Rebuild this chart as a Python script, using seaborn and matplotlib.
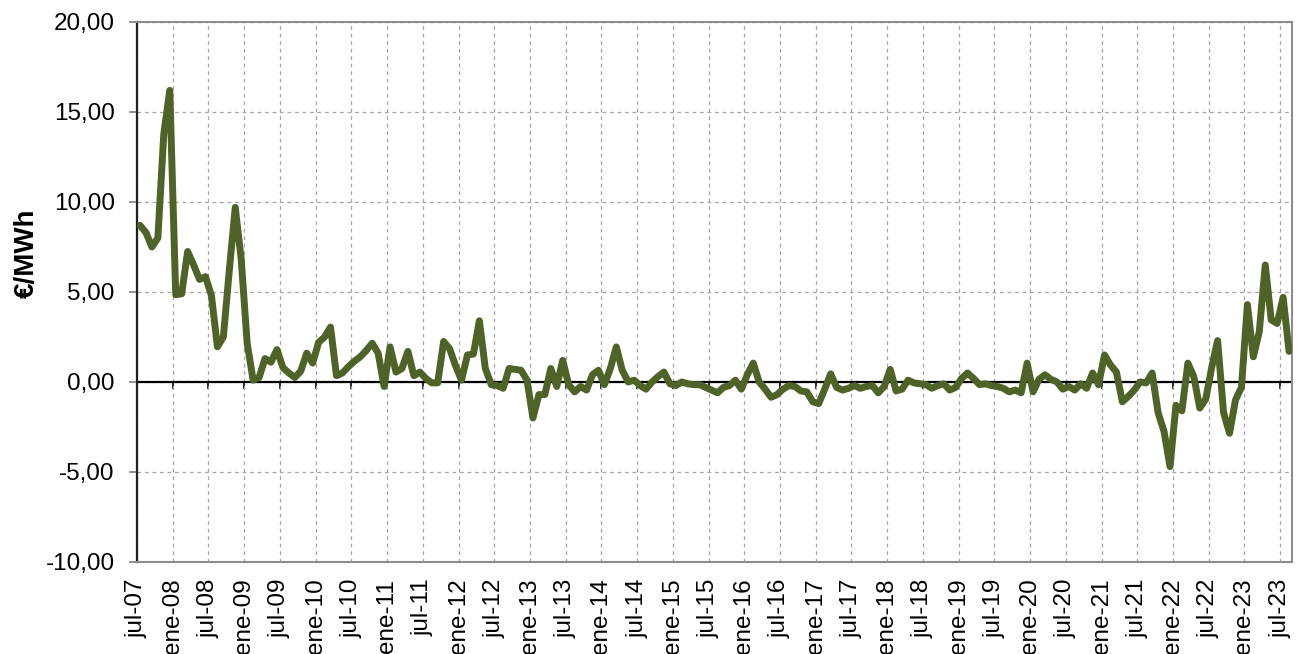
import numpy as np
import pandas as pd
import matplotlib
matplotlib.use("Agg")
import matplotlib.pyplot as plt
from matplotlib.ticker import FuncFormatter, MultipleLocator
import seaborn as sns

# Monthly price spread (EUR/MWh), July 2007 to August 2023
spread_eur_mwh = [
    8.7, 8.3, 7.5, 8.0, 13.8, 16.2, 4.85, 4.9, 7.25, 6.5, 5.7, 5.85,
    4.8, 1.95, 2.5, 6.2, 9.7, 6.8, 2.15, 0.1, 0.25, 1.3, 1.1, 1.8,
    0.8, 0.5, 0.25, 0.6, 1.6, 1.05, 2.2, 2.5, 3.05, 0.35, 0.5, 0.85,
    1.15, 1.4, 1.75, 2.15, 1.6, -0.25, 1.95, 0.55, 0.75, 1.7, 0.35, 0.55,
    0.2, -0.05, -0.05, 2.25, 1.85, 0.9, 0.1, 1.5, 1.55, 3.4, 0.75, -0.15,
    -0.2, -0.35, 0.75, 0.7, 0.65, 0.1, -2.0, -0.7, -0.7, 0.75, -0.25, 1.2,
    -0.15, -0.55, -0.25, -0.45, 0.4, 0.65, -0.15, 0.75, 1.95, 0.65, 0.0, 0.1,
    -0.2, -0.4, 0.0, 0.3, 0.55, -0.1, -0.2, 0.0, -0.1, -0.15, -0.15, -0.3,
    -0.45, -0.6, -0.3, -0.2, 0.1, -0.4, 0.4, 1.05, 0.0, -0.4, -0.85, -0.7,
    -0.4, -0.2, -0.25, -0.5, -0.55, -1.1, -1.2, -0.4, 0.45, -0.3, -0.45, -0.35,
    -0.2, -0.35, -0.25, -0.2, -0.6, -0.25, 0.7, -0.5, -0.4, 0.1, -0.05, -0.1,
    -0.15, -0.35, -0.2, -0.1, -0.45, -0.3, 0.2, 0.5, 0.2, -0.15, -0.1, -0.2,
    -0.25, -0.35, -0.55, -0.45, -0.6, 1.05, -0.55, 0.15, 0.4, 0.15, 0.0, -0.4,
    -0.25, -0.45, -0.1, -0.35, 0.5, -0.15, 1.5, 0.95, 0.55, -1.1, -0.8, -0.45,
    0.0, -0.05, 0.5, -1.7, -2.75, -4.7, -1.3, -1.6, 1.05, 0.3, -1.45, -0.95,
    0.8, 2.3, -1.7, -2.85, -1.0, -0.3, 4.3, 1.4, 2.8, 6.5, 3.45, 3.25,
    4.7, 1.7,
]

# Half-yearly axis labels (Spanish month abbreviations)
tick_labels = [
    "jul-07", "ene-08", "jul-08", "ene-09", "jul-09", "ene-10", "jul-10",
    "ene-11", "jul-11", "ene-12", "jul-12", "ene-13", "jul-13", "ene-14",
    "jul-14", "ene-15", "jul-15", "ene-16", "jul-16", "ene-17", "jul-17",
    "ene-18", "jul-18", "ene-19", "jul-19", "ene-20", "jul-20", "ene-21",
    "jul-21", "ene-22", "jul-22", "ene-23", "jul-23",
]

y_label = "€/MWh"

# Months counted from July 2007; each value sits in the middle of its month
n = len(spread_eur_mwh)
df = pd.DataFrame({"month": np.arange(n) + 0.5, "spread": spread_eur_mwh})
tick_pos = np.arange(len(tick_labels)) * 6

sns.set_theme(style="white")
plt.rcParams["font.family"] = ["Liberation Sans", "DejaVu Sans"]
plt.rcParams["text.color"] = "black"
plt.rcParams["xtick.color"] = "black"
plt.rcParams["ytick.color"] = "black"

fig = plt.figure(figsize=(13.1, 6.54), dpi=100)
ax = fig.add_axes([0.1046, 0.1407, 0.8817, 0.8257])

ax.set_xlim(0, n)
ax.set_ylim(-10, 20)

ax.grid(True, color="#a6a6a6", linestyle=(0, (3, 3)), linewidth=0.9, zorder=0)
ax.set_axisbelow(True)

# Solid axis line at zero
ax.axhline(0, color="black", linewidth=1.6, zorder=2)

sns.lineplot(data=df, x="month", y="spread", ax=ax, color="#4f6228",
             linewidth=5.0, zorder=5)

ax.yaxis.set_major_locator(MultipleLocator(5))
ax.yaxis.set_major_formatter(FuncFormatter(lambda v, p: f"{v:.2f}".replace(".", ",")))
ax.set_xticks(tick_pos)
ax.set_xticklabels(tick_labels, rotation=90, fontsize=17.5)
ax.tick_params(axis="x", length=0, pad=12, labelcolor="black")
ax.tick_params(axis="y", direction="out", length=6, width=1.2,
               color="#808080", labelsize=17.5, pad=10, left=True,
               labelcolor="black")

for side in ("top", "right", "bottom"):
    ax.spines[side].set_color("#8c8c8c")
    ax.spines[side].set_linewidth(1.5)
ax.spines["left"].set_color("#202020")
ax.spines["left"].set_linewidth(1.6)

# Tick marks hanging below the zero line
zero_axis = ax.secondary_xaxis(1 / 3)
zero_axis.set_xticks(tick_pos)
zero_axis.set_xticklabels([])
zero_axis.tick_params(axis="x", direction="out", length=5, width=1.2,
                      color="black")
zero_axis.spines["bottom"].set_visible(False)
zero_axis.spines["top"].set_visible(False)

ax.set_xlabel("")
ax.set_ylabel(y_label, fontsize=20, fontweight="bold", color="black")
ax.yaxis.set_label_coords(-0.0845, 0.571)

fig.savefig("out.png", dpi=100, facecolor="white")
